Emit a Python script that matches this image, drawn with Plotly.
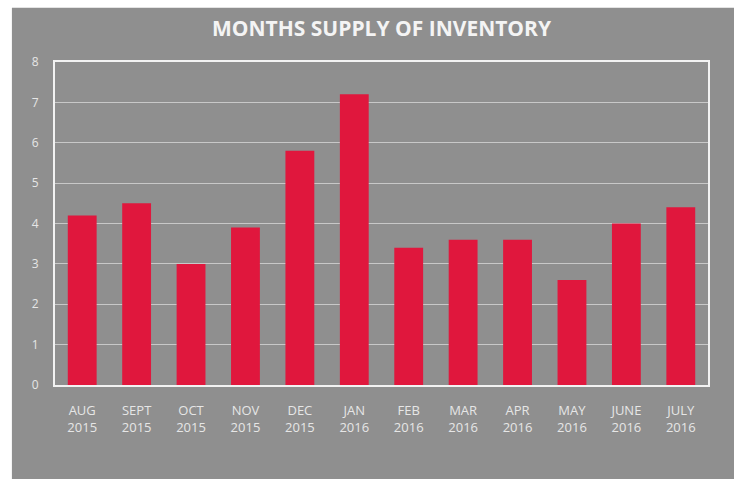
import plotly.graph_objects as go

months = ["AUG<br>2015", "SEPT<br>2015", "OCT<br>2015", "NOV<br>2015", "DEC<br>2015", "JAN<br>2016",
          "FEB<br>2016", "MAR<br>2016", "APR<br>2016", "MAY<br>2016", "JUNE<br>2016", "JULY<br>2016"]
supply = [4.2, 4.5, 3.0, 3.9, 5.8, 7.2, 3.4, 3.6, 3.6, 2.6, 4.0, 4.4]
y_ticks = [0, 1, 2, 3, 4, 5, 6, 7, 8]

BG = "#8f8f8f"
fig = go.Figure()
fig.add_trace(go.Bar(x=months, y=supply, marker=dict(color="#e0173d", line=dict(width=0)), width=0.53))

fig.add_shape(type="rect", xref="paper", yref="paper", x0=-0.066, x1=1.05, y0=-0.3, y1=1.168,
              fillcolor=BG, line=dict(width=0), layer="below")

fig.update_layout(
    width=734, height=479,
    margin=dict(l=55, r=26, t=62, b=94),
    paper_bgcolor="white", plot_bgcolor=BG,
    title=dict(text="<b>MONTHS SUPPLY OF INVENTORY</b>", x=0.5, xref="paper", y=0.94, yanchor="middle",
               font=dict(family="Open Sans", size=21, color="#f4f4f4")),
    showlegend=False, bargap=0.47,
    font=dict(family="Open Sans", color="#e6e6e6"),
)
fig.update_xaxes(showgrid=False, showline=True, linecolor="#f2f2f2", linewidth=2, mirror=True,
                 tickfont=dict(size=13, color="#e6e6e6"), ticks="", ticklabelstandoff=12)
fig.update_yaxes(range=[0, 8], tickvals=y_ticks, showgrid=True, gridcolor="#c8c8c8", gridwidth=1,
                 showline=True, linecolor="#f2f2f2", linewidth=2, mirror=True, zeroline=False,
                 tickfont=dict(size=12, color="#e6e6e6"), ticks="", ticklabelstandoff=12)

fig.write_html("out.html")
